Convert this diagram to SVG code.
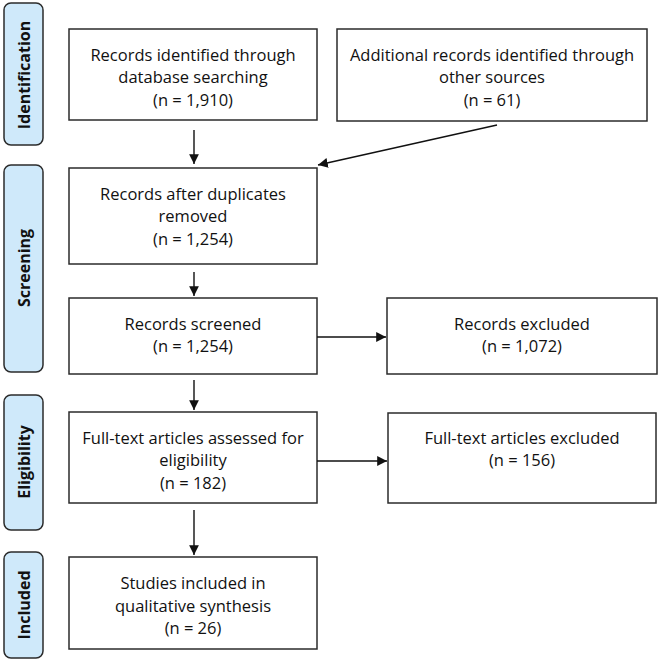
<svg xmlns="http://www.w3.org/2000/svg" width="661" height="662" viewBox="0 0 661 662">
<style>
.phase rect{fill:#cfe9fa;stroke:#2b2b2b;stroke-width:1.5}
.phase text{font-family:"Open Sans","Noto Sans",sans-serif;font-weight:bold;font-size:16px;fill:#111;text-anchor:middle}
.box rect{fill:#fff;stroke:#2b2b2b;stroke-width:1.5}
.box text{font-family:"Open Sans","Noto Sans",sans-serif;font-size:16.5px;fill:#111;text-anchor:middle}
.conn line{stroke:#111;stroke-width:1.4;marker-end:url(#ah)}
</style>
<defs>
<marker id="ah" viewBox="0 0 10 10" refX="10" refY="5" markerWidth="7" markerHeight="7" markerUnits="strokeWidth" orient="auto">
<path d="M0,0 L10,5 L0,10 z" fill="#111"/>
</marker>
</defs>
<rect width="661" height="662" fill="#fff"/>
<g id="ph-identification" class="phase"><rect x="4" y="3" width="39" height="142" rx="7"/><text transform="translate(29.5,75) rotate(-90)">Identification</text></g>
<g id="ph-screening" class="phase"><rect x="4" y="165" width="39" height="207" rx="7"/><text transform="translate(29.5,268) rotate(-90)">Screening</text></g>
<g id="ph-eligibility" class="phase"><rect x="4" y="395" width="39" height="135" rx="7"/><text transform="translate(29.5,462) rotate(-90)">Eligibility</text></g>
<g id="ph-included" class="phase"><rect x="4" y="552" width="39" height="106" rx="7"/><text transform="translate(29.5,605) rotate(-90)">Included</text></g>

<g id="n-db" class="box"><rect x="69" y="29" width="248" height="91"/><text x="193" y="61">Records identified through</text><text x="193" y="83">database searching</text><text x="193" y="106">(n = 1,910)</text></g>
<g id="n-other" class="box"><rect x="337" y="29" width="310" height="92"/><text x="492" y="61">Additional records identified through</text><text x="492" y="83">other sources</text><text x="492" y="106">(n = 61)</text></g>
<g id="n-dup" class="box"><rect x="69" y="168" width="248" height="96"/><text x="193" y="200">Records after duplicates</text><text x="193" y="222">removed</text><text x="193" y="245">(n = 1,254)</text></g>
<g id="n-screened" class="box"><rect x="69" y="298" width="248" height="76"/><text x="193" y="330">Records screened</text><text x="193" y="352">(n = 1,254)</text></g>
<g id="n-excl" class="box"><rect x="387" y="298" width="270" height="76"/><text x="522" y="330">Records excluded</text><text x="522" y="352">(n = 1,072)</text></g>
<g id="n-full" class="box"><rect x="69" y="412" width="248" height="91"/><text x="193" y="444">Full-text articles assessed for</text><text x="193" y="466">eligibility</text><text x="193" y="489">(n = 182)</text></g>
<g id="n-fullexcl" class="box"><rect x="388" y="413" width="268" height="90"/><text x="522" y="444">Full-text articles excluded</text><text x="522" y="466">(n = 156)</text></g>
<g id="n-incl" class="box"><rect x="69" y="557" width="248" height="92"/><text x="193" y="589">Studies included in</text><text x="193" y="612">qualitative synthesis</text><text x="193" y="634">(n = 26)</text></g>

<g id="connectors" class="conn">
<line x1="194" y1="130" x2="194" y2="164"/>
<line x1="497" y1="125" x2="318" y2="165"/>
<line x1="194" y1="272" x2="194" y2="296"/>
<line x1="317" y1="337" x2="386" y2="337"/>
<line x1="194" y1="380" x2="194" y2="410"/>
<line x1="317" y1="461" x2="387" y2="461"/>
<line x1="194" y1="510" x2="194" y2="555"/>
</g>
</svg>
